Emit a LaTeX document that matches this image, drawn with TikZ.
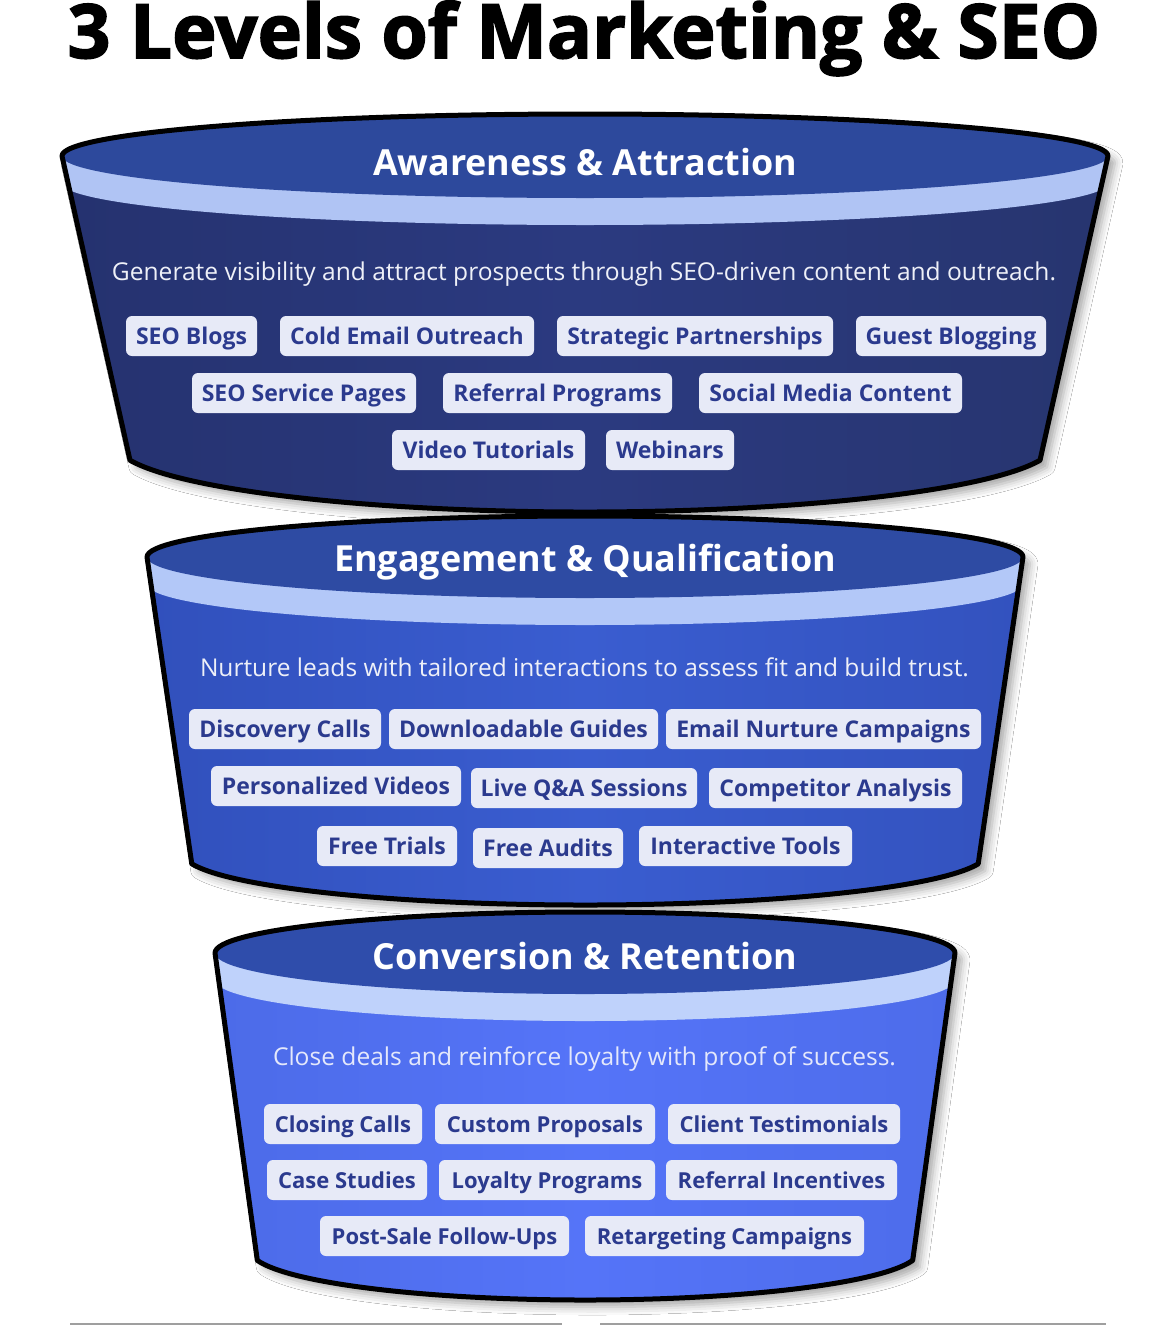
\documentclass[tikz,border=0pt]{standalone}
\usepackage{fontspec}
\setmainfont{Open Sans}
\newfontfamily\titlefont[FakeBold=2.2]{Open Sans Bold}
\usetikzlibrary{shadows.blur}
\definecolor{tagfill}{HTML}{E7EAF7}
\definecolor{tagtext}{HTML}{2B3A8E}
\definecolor{AL}{HTML}{25326F}\definecolor{AM}{HTML}{2B3A80}\definecolor{AR}{HTML}{27356F}
\definecolor{Aband}{HTML}{B0C4F4}\definecolor{Atop}{HTML}{2D499C}\definecolor{Abody}{HTML}{283777}
\definecolor{BL}{HTML}{3150BC}\definecolor{BM}{HTML}{3A5DD0}\definecolor{BR}{HTML}{3352BE}
\definecolor{Bband}{HTML}{B3C8F8}\definecolor{Btop}{HTML}{2E4BA3}\definecolor{Bbody}{HTML}{3455C4}
\definecolor{CL}{HTML}{4C6BE8}\definecolor{CM}{HTML}{5574F8}\definecolor{CR}{HTML}{4D6CEA}
\definecolor{Cband}{HTML}{BFD2FB}\definecolor{Ctop}{HTML}{2F4DAB}\definecolor{Cbody}{HTML}{5070F3}
\definecolor{descA}{HTML}{EEF0F8}
\definecolor{descC}{HTML}{E4E8FB}
% #1 rx, #2 cy, #3 ry, #4 y0, #5 rxb, #6 ryb, #7 theta
\newcommand\fpath[7]{(585-#1,#2) arc[start angle=180,end angle=360,x radius=#1,y radius=#3] -- ([shift={(585,#4)}]#7:#5 and #6) arc[start angle=#7,end angle=180-#7,x radius=#5,y radius=#6] -- cycle}
% #8 colour prefix
\newcommand\funnel[8]{%
  \path[fshadow, fill=#8body] \fpath{#1}{#2}{#3}{#4}{#5}{#6}{#7};
  \begin{scope}
    \clip \fpath{#1}{#2}{#3}{#4}{#5}{#6}{#7};
    \shade[left color=#8L, right color=#8R, middle color=#8M] (585-#1,#2-#3-10) rectangle (585+#1,#4+#6+10);
    \fill[#8band] (585-#1-60,#2-#3-60) -- (585+#1+60,#2-#3-60) -- (585+#1+60,#2+27) -- (585+#1,#2+27)
       arc[start angle=0,end angle=180,x radius=#1,y radius=#3] -- (585-#1-60,#2+27) -- cycle;
    \fill[#8top] (585,#2) ellipse[x radius=#1, y radius=#3];
  \end{scope}
  \draw[outline] \fpath{#1}{#2}{#3}{#4}{#5}{#6}{#7};
}
\newcommand\tagb[6][]{\node[tagbox, #1, minimum width={(#4-#3)*1pt}] (#2) at ({(#3+#4)/2},#5) {#6};}
\begin{document}
\begin{tikzpicture}[x=1pt,y=-1pt,
  tagbox/.style={fill=tagfill, rounded corners=6pt, minimum height=40pt, inner sep=0pt,
    text height=17pt, text depth=0pt, font=\fontsize{23}{23}\selectfont\bfseries, text=tagtext},
  smalltag/.style={font=\fontsize{22}{22}\selectfont\bfseries},
  outline/.style={draw=black, line width=5pt, line join=round},
  fshadow/.style={blur shadow={shadow xshift=7pt, shadow yshift=-7pt, shadow blur radius=8pt, shadow opacity=35}},
  heading/.style={text=white, font=\bfseries, inner sep=0pt, anchor=base},
  desc/.style={inner sep=0pt, anchor=base}]
\fill[white] (0,0) rectangle (1170,1326);
\useasboundingbox (0,0) rectangle (1170,1326);

\node[inner sep=0pt, anchor=base] (title) at (584,58) {\resizebox{1032pt}{!}{\titlefont 3 Levels of Marketing \& SEO}};

\funnel{523}{156}{42}{443}{470}{69}{14.5}{A}
\funnel{438}{557}{41}{853}{402}{52}{12}{B}
\funnel{370}{953}{41}{1250}{335}{50}{12}{C}

\node[heading] (h1) at (585,175) {\resizebox{424pt}{!}{Awareness \& Attraction}};
\node[heading] (h2) at (585,571) {\resizebox{502pt}{!}{Engagement \& Qualification}};
\node[heading] (h3) at (585,969) {\resizebox{425pt}{!}{Conversion \& Retention}};

\node[desc, text=descA] (d1) at (584,280) {\resizebox{944pt}{!}{Generate visibility and attract prospects through SEO-driven content and outreach.}};
\node[desc, text=descA] (d2) at (584.5,676) {\resizebox{769pt}{!}{Nurture leads with tailored interactions to assess fit and build trust.}};
\node[desc, text=descC] (d3) at (584.5,1065) {\resizebox{623pt}{!}{Close deals and reinforce loyalty with proof of success.}};

\tagb{a1}{126}{257}{336}{SEO Blogs}
\tagb{a2}{280}{534}{336}{Cold Email Outreach}
\tagb{a3}{557}{833}{336}{Strategic Partnerships}
\tagb{a4}{856}{1046}{336}{Guest Blogging}
\tagb{a5}{192}{416}{393}{SEO Service Pages}
\tagb{a6}{443}{672}{393}{Referral Programs}
\tagb{a7}{699}{962}{393}{Social Media Content}
\tagb{a8}{392}{585}{450}{Video Tutorials}
\tagb{a9}{606}{734}{450}{Webinars}

\tagb{b1}{189}{381}{729}{Discovery Calls}
\tagb{b2}{389}{658}{729}{Downloadable Guides}
\tagb{b3}{666}{981}{729}{Email Nurture Campaigns}
\tagb{b4}{211}{461}{786}{Personalized Videos}
\tagb{b5}{471}{697}{788}{Live Q\&A Sessions}
\tagb{b6}{709}{962}{788}{Competitor Analysis}
\tagb{b7}{317}{457}{846}{Free Trials}
\tagb{b8}{473}{623}{848}{Free Audits}
\tagb{b9}{639}{852}{846}{Interactive Tools}

\tagb[smalltag]{c1}{264}{422}{1124}{Closing Calls}
\tagb[smalltag]{c2}{435}{655}{1124}{Custom Proposals}
\tagb[smalltag]{c3}{668}{900}{1124}{Client Testimonials}
\tagb[smalltag]{c4}{267}{427}{1180}{Case Studies}
\tagb[smalltag]{c5}{439}{655}{1180}{Loyalty Programs}
\tagb[smalltag]{c6}{666}{897}{1180}{Referral Incentives}
\tagb[smalltag]{c7}{320}{569}{1236}{Post-Sale Follow-Ups}
\tagb[smalltag]{c8}{585}{864}{1236}{Retargeting Campaigns}

\draw[gray!75, line width=2pt] (70,1324) -- (562,1324);
\draw[gray!75, line width=2pt] (600,1324) -- (1106,1324);
\end{tikzpicture}
\end{document}
